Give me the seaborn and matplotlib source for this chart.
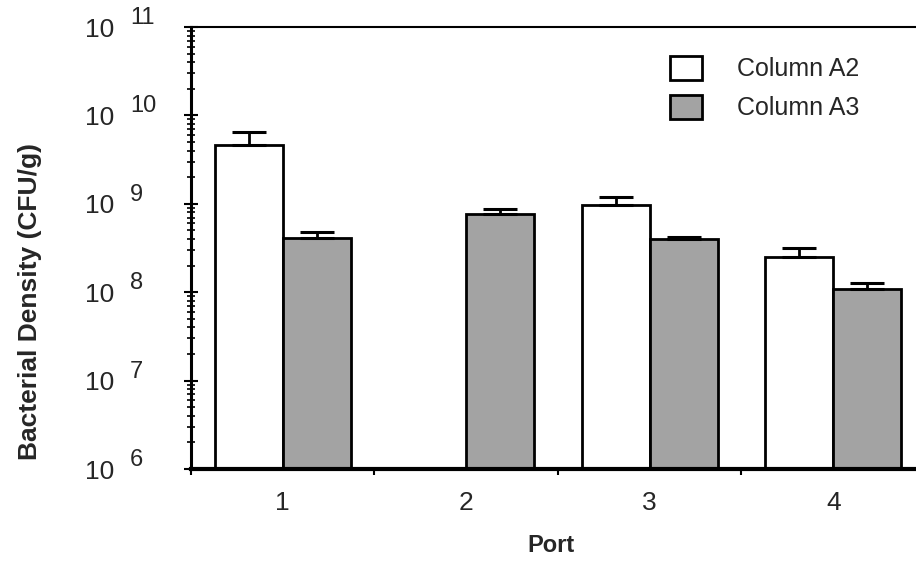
import numpy as np
import pandas as pd
import matplotlib
matplotlib.use("Agg")
import matplotlib.pyplot as plt
import matplotlib.transforms as mtransforms
from matplotlib.ticker import LogLocator, NullFormatter, FixedLocator
import seaborn as sns

# ---- data ----
ports = ["1", "2", "3", "4"]
series = ["Column A2", "Column A3"]
a2_mean = [4.6e9, np.nan, 9.6e8, 2.5e8]
a3_mean = [4.1e8, 7.6e8, 3.96e8, 1.1e8]
a2_err = [1.9e9, np.nan, 2.4e8, 0.7e8]
a3_err = [0.7e8, 1.2e8, 0.24e8, 0.18e8]
decades = [6, 7, 8, 9, 10, 11]

df = pd.DataFrame({
    "Port": ports * 2,
    "Column": [series[0]] * 4 + [series[1]] * 4,
    "Density": a2_mean + a3_mean,
    "Err": a2_err + a3_err,
})

sns.set_style("ticks")
plt.rcParams["font.family"] = ["Liberation Sans", "DejaVu Sans"]

fig = plt.figure(figsize=(9.16, 5.64), dpi=100)
ax = fig.add_axes([0.2085, 0.1684, 0.8013, 0.7837])

palette = {series[0]: "white", series[1]: "#a3a3a3"}
sns.barplot(data=df, x="Port", y="Density", hue="Column", order=ports,
            hue_order=series, palette=palette, edgecolor="black",
            linewidth=2.0, width=0.74, errorbar=None, log_scale=True,
            saturation=1, ax=ax)

# one-sided (upper) error bars placed on the drawn bars
err_lookup = {(r.Column, r.Port): r.Err for r in df.itertuples()}
xs, ys, es = [], [], []
for cont, lvl in zip(ax.containers, series):
    for bar in cont:
        h = bar.get_height()
        if not np.isfinite(h) or h <= 0:
            continue
        cx = bar.get_x() + bar.get_width() / 2
        port = ports[int(round(cx))]
        e = err_lookup.get((lvl, port), np.nan)
        if not np.isfinite(e):
            continue
        xs.append(cx); ys.append(h); es.append(e)
ax.errorbar(xs, ys, yerr=[np.zeros(len(es)), es], fmt="none", ecolor="black",
            elinewidth=2.0, capsize=12, capthick=2.2, zorder=4)

# axes limits & scale
ax.set_yscale("log")
ax.set_ylim(10.0 ** decades[0], 10.0 ** decades[-1])
ax.set_xlim(-0.5, len(ports) - 0.5)

# y ticks
ax.yaxis.set_major_locator(FixedLocator([10.0 ** d for d in decades]))
ax.yaxis.set_minor_locator(LogLocator(base=10, subs=np.arange(2, 10)))
ax.yaxis.set_minor_formatter(NullFormatter())
ax.set_yticklabels(["10"] * len(decades))
ax.tick_params(axis="y", which="major", direction="inout", length=10,
               width=1.5, labelsize=19, pad=50, color="black")
ax.tick_params(axis="y", which="minor", direction="inout", length=5.5,
               width=1.2, color="black")

# exponents as superscripts next to "10"
base_tr = mtransforms.blended_transform_factory(ax.transAxes, ax.transData)
exp_tr = mtransforms.offset_copy(base_tr, fig=fig, x=0, y=9, units="dots")
for d in decades:
    ax.text(-0.083, 10.0 ** d, str(d), transform=exp_tr, ha="left",
            va="center", fontsize=17, clip_on=False)

# x ticks: marks at group boundaries, labels at group centres
ax.set_xticks(np.arange(len(ports) + 1) - 0.5)
ax.set_xticklabels([])
ax.set_xticks(np.arange(len(ports)), labels=ports, minor=True)
ax.tick_params(axis="x", which="major", direction="out", length=4.5,
               width=1.5, color="black")
ax.tick_params(axis="x", which="minor", length=0, labelsize=19, pad=16)

# spines
for s in ax.spines.values():
    s.set_color("black")
ax.spines["left"].set_linewidth(2.2)
ax.spines["bottom"].set_linewidth(3.0)
ax.spines["top"].set_linewidth(1.5)
ax.spines["right"].set_linewidth(1.5)

# labels
ax.set_ylabel("Bacterial Density (CFU/g)", fontsize=19, fontweight="bold")
ax.yaxis.set_label_coords(-0.203, 0.38)
ax.set_xlabel("Port", fontsize=17, fontweight="bold")
ax.xaxis.set_label_coords(0.49, -0.148)

# legend
handles, labels = ax.get_legend_handles_labels()
ax.legend(handles, labels, loc="upper left", bbox_to_anchor=(670 / 916, 1 - 56 / 564),
          bbox_transform=fig.transFigure, frameon=False, fontsize=18,
          handlelength=1.28, handleheight=1.08, handletextpad=1.4,
          labelspacing=0.55, borderpad=0, borderaxespad=0)

fig.savefig("out.png", dpi=100)
